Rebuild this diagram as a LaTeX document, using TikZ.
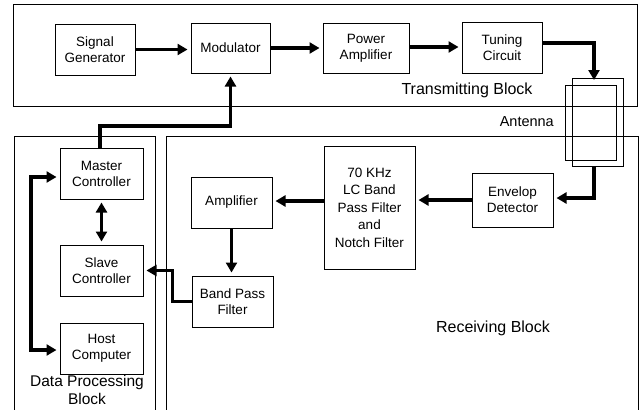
\documentclass[tikz,border=0pt]{standalone}
\usepackage{fontspec}
\setmainfont{Liberation Sans}
\usetikzlibrary{arrows.meta,calc}
\begin{document}
\begin{tikzpicture}[x=1pt,y=-1pt,
  blk/.style={draw,line width=1pt,rectangle,inner sep=0pt,align=center,
    font=\fontsize{13.5}{16}\selectfont,minimum width=81pt,minimum height=51pt},
  tip/.style={Triangle[length=10pt,width=11pt]},
  arr/.style={line width=3.2pt,-{Triangle[length=10pt,width=11pt]},shorten >=3pt},
  darr/.style={line width=3.2pt,{Triangle[length=10pt,width=11pt]}-{Triangle[length=10pt,width=11pt]},shorten >=3pt,shorten <=3pt},
  arrthin/.style={line width=2.2pt,-{Triangle[length=10pt,width=11pt]},shorten >=3pt},
  frame/.style={line width=1pt},
  lbl/.style={inner sep=0pt,align=center,font=\fontsize{16}{19}\selectfont}]
\useasboundingbox (0,0) rectangle (641,410);
% outer blocks
\draw[frame] (13,4) rectangle (637,106);
\draw[frame] (14,410) -- (14,136) -- (155,136) -- (155,410);
\draw[frame] (166,410) -- (166,136) -- (638,136) -- (638,410);
% transmitting nodes
\node[blk,minimum width=80pt] (sg) at (95,49.5) {Signal\\Generator};
\node[blk,minimum width=79pt,minimum height=50pt] (mod) at (230.5,48) {Modulator};
\node[blk,minimum width=86pt,minimum height=50pt] (pa) at (366,48) {Power\\Amplifier};
\node[blk,minimum width=80pt] (tc) at (502,47.5) {Tuning\\Circuit};
\node[lbl] (tb) at (467,90) {Transmitting Block};
% antenna
\node[draw,line width=1pt,minimum width=51pt,minimum height=88pt,inner sep=0pt] (ant1) at (597.5,122) {};
\node[draw,line width=1pt,minimum width=51pt,minimum height=75pt,inner sep=0pt] (ant2) at (590.5,122.5) {};
\node[inner sep=0pt,anchor=east,font=\fontsize{14.5}{17}\selectfont] (antl) at (554,122) {Antenna};
\coordinate (aT) at (594,80);
\coordinate (aB) at (594,166);
% receiving nodes
\node[blk,minimum width=81pt,minimum height=54pt] (env) at (512.5,200) {Envelop\\Detector};
\node[blk,minimum width=91pt,minimum height=123pt,font=\fontsize{13.5}{17.5}\selectfont] (lc) at (369.5,207.5) {70 KHz\\LC Band\\Pass Filter\\and\\Notch Filter};
\node[blk] (amp) at (231.5,202.5) {Amplifier};
\node[blk] (bpf) at (232.5,301.5) {Band Pass\\Filter};
\node[lbl] (rb) at (493,328) {Receiving Block};
% data processing nodes
\node[blk,minimum width=83pt] (mc) at (101.5,173.5) {Master\\Controller};
\node[blk,minimum width=83pt] (slc) at (101.5,270.5) {Slave\\Controller};
\node[blk,minimum width=83pt] (hc) at (101.5,348.5) {Host\\Computer};
\node[lbl,font=\fontsize{15.5}{18}\selectfont] (dpb) at (87,390) {Data Processing\\Block};
% connectors
\draw[arr] (sg.east) -- (sg.east -| mod.west);
\draw[arr] (mod.east) -- (pa.west);
\draw[arr] ($(pa.east)+(0,-1)$) -- ($(tc.west)+(0,-0.5)$);
\draw[arr,shorten >=0pt] ($(tc.east)+(0,-4.5)$) -| (aT);
\draw[arr] (aB) |- ($(env.east)+(0,-2)$);
\draw[arr] (env.west) -- (env.west -| lc.east);
\draw[arr] ($(lc.west)+(0,-6.5)$) -- ($(amp.east)+(0,-1.5)$);
\draw[arr] (amp.south) -- (bpf.north -| amp.south);
\draw[arrthin] (bpf.west) -- ++(-19,0) |- (slc.east);
\draw[darr] (mc.south) -- (slc.north);
\draw[darr] ($(mc.west)+(0,3.5)$) -- (31,177) -- (31,350) -- ($(hc.west)+(0,1.5)$);
\draw[arr] ($(mc.north)+(-1.5,0)$) -- (100,126) -| (mod.south);
\end{tikzpicture}
\end{document}
